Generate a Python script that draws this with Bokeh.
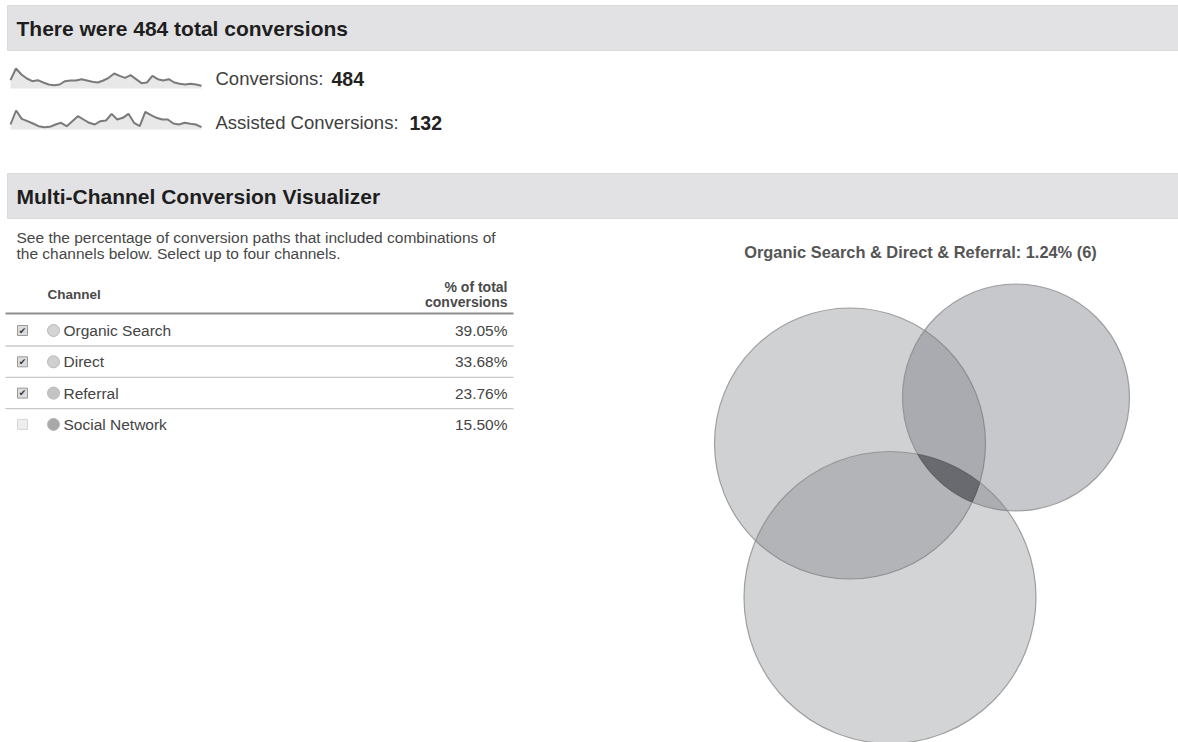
import numpy as np
from bokeh.plotting import figure
from bokeh.models import Range1d
from bokeh.core.properties import value
from bokeh.embed import file_html
from bokeh.resources import INLINE

# ---------------- data ----------------
TOTAL_CONVERSIONS = 484
ASSISTED_CONVERSIONS = 132
conversions_trend = [25, 60, 42, 30, 22, 25, 18, 12, 10, 12, 22, 24, 24, 28, 24, 20, 18, 24,
                     32, 45, 38, 32, 40, 28, 16, 18, 38, 28, 24, 28, 18, 14, 12, 14, 12, 8]
assisted_trend = [15, 57, 32, 25, 18, 10, 7, 8, 15, 20, 10, 25, 40, 30, 20, 15, 25, 27, 47,
                  30, 35, 47, 20, 10, 53, 43, 35, 30, 30, 18, 15, 20, 17, 15, 7]
channels = ["Organic Search", "Direct", "Referral", "Social Network"]
channel_pct = [39.05, 33.68, 23.76, 15.50]
channel_selected = [True, True, True, False]
channel_dot_colors = ["#d4d4d4", "#d0d0d0", "#c4c4c4", "#a8a8a8"]
overlap_label = "Organic Search & Direct & Referral"
overlap_pct = 1.24
overlap_count = 6

# venn layout (page px): centers and radii
VENN_X = [849.5, 1015.5, 889.5]
VENN_Y = [443.0, 397.0, 597.0]
VENN_R = [135.5, 113.5, 146.0]
VENN_ALPHA = [0.32, 0.38, 0.30]

FONT = value("Liberation Sans")

W, H = 1178, 742
p = figure(width=W, height=H, output_backend="svg", toolbar_location=None,
           x_range=Range1d(0, W), y_range=Range1d(H, 0),
           x_axis_type=None, y_axis_type=None, min_border=0,
           background_fill_color="white", border_fill_color="white")
p.outline_line_color = None
p.xgrid.visible = False
p.ygrid.visible = False

# ---------------- header bars ----------------
p.quad(left=[7, 7], right=[W, W], top=[5, 173], bottom=[50, 218],
       fill_color="#e2e2e4", line_color="#dadadc", line_width=1)
p.text(x=[16, 16], y=[28, 196],
       text=[f"There were {TOTAL_CONVERSIONS} total conversions",
             "Multi-Channel Conversion Visualizer"],
       text_font=FONT, text_font_size="21px", text_font_style="bold",
       text_color="#1e1e1e", text_baseline="middle", text_align="left")


# ---------------- sparklines ----------------
def spark(vals, y_bottom, y_top, x_left=10, x_right=201, name="s"):
    n = len(vals)
    vmax = max(vals)
    k = (n - 1) / (x_right - x_left)
    xs = -x_left * k
    p.extra_x_ranges[name + "x"] = Range1d(xs, xs + W * k)
    span = vmax / (y_bottom - y_top)
    ys = -(H - y_bottom) * span
    p.extra_y_ranges[name + "y"] = Range1d(ys, ys + H * span)
    idx = list(range(n))
    p.varea(x=idx, y1=[0] * n, y2=vals, fill_color="#e8e8e8",
            x_range_name=name + "x", y_range_name=name + "y")
    p.line(x=idx, y=vals, line_color="#7a7a7a", line_width=2,
           x_range_name=name + "x", y_range_name=name + "y")


spark(conversions_trend, 88, 68, name="c")
spark(assisted_trend, 129, 110, name="a")

p.text(x=[215, 215], y=[78, 122], text=["Conversions:", "Assisted Conversions:"],
       text_font=FONT, text_font_size="18.5px", text_color="#404040",
       text_baseline="middle", text_align="left")
p.text(x=[331, 409], y=[78, 122], text=[str(TOTAL_CONVERSIONS), str(ASSISTED_CONVERSIONS)],
       text_font=FONT, text_font_size="19.5px", text_font_style="bold", text_color="#222222",
       text_baseline="middle", text_align="left")

# ---------------- description ----------------
p.text(x=[16, 16], y=[237, 253],
       text=["See the percentage of conversion paths that included combinations of",
             "the channels below. Select up to four channels."],
       text_font=FONT, text_font_size="15.5px", text_color="#474747",
       text_baseline="middle", text_align="left")

# ---------------- table ----------------
p.text(x=[47], y=[294], text=["Channel"], text_font=FONT, text_font_size="13.5px",
       text_font_style="bold", text_color="#4a4a4a", text_baseline="middle")
p.text(x=[507, 507], y=[286, 301], text=["% of total", "conversions"], text_font=FONT,
       text_font_size="14px", text_font_style="bold", text_color="#4a4a4a",
       text_baseline="middle", text_align="right")
p.segment(x0=[5], x1=[513], y0=[313], y1=[313], line_color="#8e8e8e", line_width=2)

row_y = [330 + i * 31.3 for i in range(len(channels))]
p.segment(x0=[5] * 3, x1=[513] * 3, y0=[y + 15.5 for y in row_y[:-1]],
          y1=[y + 15.5 for y in row_y[:-1]], line_color="#c8c8c8", line_width=1.3)

# checkboxes
p.rect(x=[22] * len(channels), y=row_y, width=10, height=10,
       fill_color=["#dcdcdc" if s else "#eeeeee" for s in channel_selected],
       line_color=["#9a9a9a" if s else "#d6d6d6" for s in channel_selected], line_width=1)
chk_y = [y for y, s in zip(row_y, channel_selected) if s]
p.text(x=[22] * len(chk_y), y=chk_y, text=["\u2714"] * len(chk_y),
       text_font=value("DejaVu Sans"), text_font_size="9px", text_color="#333333",
       text_baseline="middle", text_align="center")
# colour dots
p.scatter(x=[53] * len(channels), y=row_y, size=12, fill_color=channel_dot_colors,
          line_color="#b8b8b8", line_width=1)
p.text(x=[63] * len(channels), y=row_y, text=channels, text_font=FONT,
       text_font_size="15.5px", text_color="#444444", text_baseline="middle")
p.text(x=[507] * len(channels), y=row_y, text=[f"{v:.2f}%" for v in channel_pct],
       text_font=FONT, text_font_size="15.5px", text_color="#444444",
       text_baseline="middle", text_align="right")

# ---------------- venn ----------------
p.text(x=[920], y=[251],
       text=[f"{overlap_label}: {overlap_pct:.2f}% ({overlap_count})"],
       text_font=FONT, text_font_size="16.4px", text_font_style="bold",
       text_color="#555555", text_baseline="middle", text_align="center")

for cx, cy, r, a in zip(VENN_X, VENN_Y, VENN_R, VENN_ALPHA):
    p.circle(x=[cx], y=[cy], radius=r, fill_color="#6d6f76", fill_alpha=a,
             line_color="#8c8c8c", line_alpha=0.8, line_width=1.2)

# triple intersection (derived from the circles)
th = np.linspace(0, 2 * np.pi, 2000, endpoint=False)
pts = []
for i in range(3):
    px = VENN_X[i] + VENN_R[i] * np.cos(th)
    py = VENN_Y[i] + VENN_R[i] * np.sin(th)
    inside = np.ones_like(px, dtype=bool)
    for j in range(3):
        if j != i:
            inside &= (px - VENN_X[j]) ** 2 + (py - VENN_Y[j]) ** 2 <= VENN_R[j] ** 2
    pts.append(np.column_stack([px[inside], py[inside]]))
pts = np.vstack(pts)
if len(pts) > 2:
    c = pts.mean(axis=0)
    order = np.argsort(np.arctan2(pts[:, 1] - c[1], pts[:, 0] - c[0]))
    pts = pts[order]
    p.patch(x=pts[:, 0], y=pts[:, 1], fill_color="#3a3b41", fill_alpha=0.5,
            line_color="#555555", line_alpha=0.6)

open("out.html", "w").write(file_html(p, INLINE))
